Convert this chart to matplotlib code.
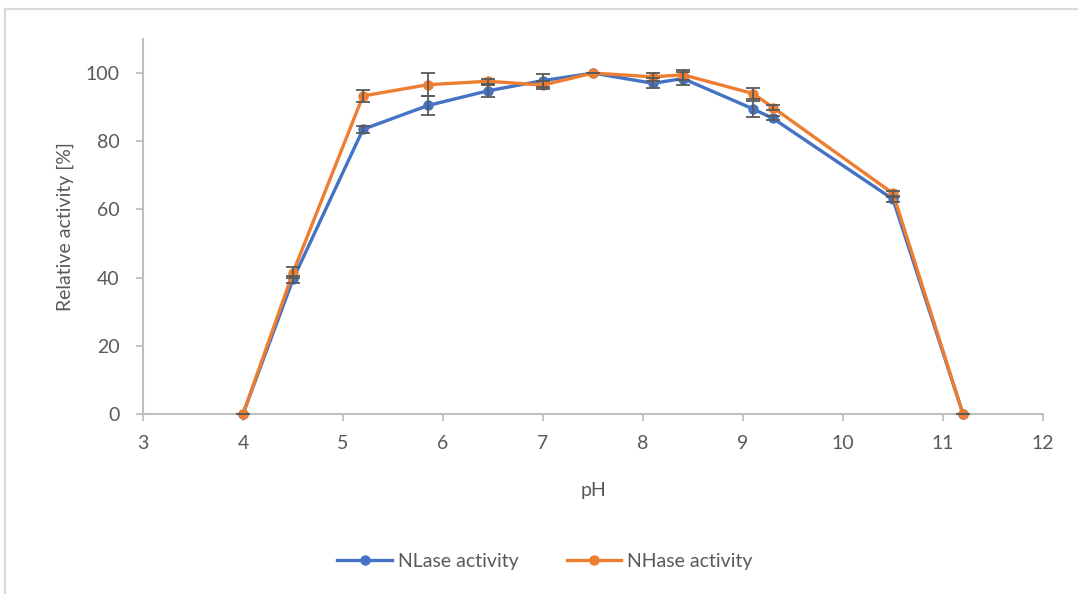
import matplotlib
matplotlib.use("Agg")
import matplotlib.pyplot as plt
from matplotlib.patches import Rectangle

ph = [4.0, 4.5, 5.2, 5.85, 6.45, 7.0, 7.5, 8.1, 8.4, 9.1, 9.3, 10.5, 11.2]
nlase = [0, 39.5, 83.5, 90.5, 94.8, 97.8, 100, 97.0, 98.4, 89.5, 86.7, 63.0, 0]
nlase_err = [0, 1.0, 1.0, 2.7, 1.7, 1.8, 0, 1.5, 1.8, 2.3, 0.6, 0.8, 0]
nhase = [0, 41.5, 93.3, 96.6, 97.6, 96.5, 100, 98.9, 99.5, 94.0, 89.9, 64.7, 0]
nhase_err = [0, 1.5, 1.8, 3.3, 0.8, 1.2, 0, 1.2, 1.5, 1.5, 0.8, 0.8, 0]

x_ticks = [3, 4, 5, 6, 7, 8, 9, 10, 11, 12]
y_ticks = [0, 20, 40, 60, 80, 100]

plt.rcParams['font.family'] = ['Lato', 'DejaVu Sans']

BLUE = '#4472C4'
ORANGE = '#ED7D31'
GRID = '#BFBFBF'
TEXT = '#595959'

fig = plt.figure(figsize=(10.78, 5.94), dpi=100)
ax = fig.add_axes([143/1078, 1 - 414/594, 900/1078, 375/594])

# chart-area frame
fig.patches.append(Rectangle((5/1078, -0.05), 1.1, 0.05 + 1 - 9/594,
                             transform=fig.transFigure, fill=False,
                             edgecolor='#D9D9D9', linewidth=1.6, zorder=0))

for y, err, col, lab in [(nlase, nlase_err, BLUE, 'NLase activity'),
                         (nhase, nhase_err, ORANGE, 'NHase activity')]:
    ax.plot(ph, y, color=col, lw=2.4, marker='o', ms=6.5, label=lab,
            zorder=3, clip_on=False)
    ax.errorbar(ph, y, yerr=err, fmt='none', ecolor=TEXT, elinewidth=1.3,
                capsize=5, capthick=1.3, zorder=4)

ax.set_xlim(3, 12)
ax.set_ylim(0, 110)
ax.set_xticks(x_ticks)
ax.set_yticks(y_ticks)

for s in ['top', 'right']:
    ax.spines[s].set_visible(False)
for s in ['left', 'bottom']:
    ax.spines[s].set_color(GRID)
    ax.spines[s].set_linewidth(1.5)
ax.tick_params(axis='both', colors=GRID, length=5, width=1.3,
               labelcolor=TEXT, labelsize=14)
ax.tick_params(axis='y', pad=12)
ax.tick_params(axis='x', pad=10)

ax.set_xlabel('pH', fontsize=14, color=TEXT, labelpad=22)
ax.set_ylabel('Relative activity [%]', fontsize=14, color=TEXT, labelpad=8)

fig.legend(loc='center', bbox_to_anchor=(545/1078, 1 - 561/594), ncol=2,
           frameon=False, fontsize=14, labelcolor=TEXT, handlelength=2.8,
           columnspacing=2.5, handletextpad=0.3)

fig.savefig('out.png', dpi=100)
